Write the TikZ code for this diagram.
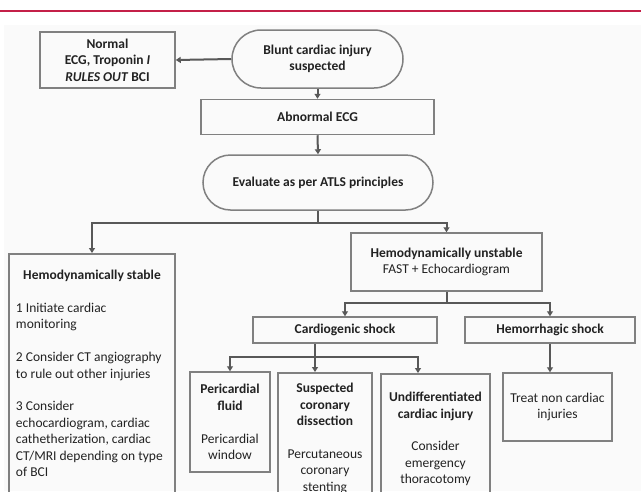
\documentclass[tikz,border=0pt]{standalone}
\usepackage{fontspec}
\setmainfont{Carlito}
\usepackage{tikz}
\usetikzlibrary{arrows.meta}
\usetikzlibrary{shapes.misc}

\definecolor{boxgray}{RGB}{128,128,128}
\definecolor{linkgray}{RGB}{88,88,88}
\definecolor{textgray}{RGB}{34,34,34}
\definecolor{rulered}{RGB}{196,32,72}

\tikzset{
  box/.style={draw=boxgray, line width=1.5pt, inner sep=0pt, align=center,
    text=textgray, font=\fontsize{13.5pt}{16.4pt}\selectfont},
  oval/.style={box, rounded rectangle},
  link/.style={draw=linkgray, line width=2pt, -{Triangle[length=5pt,width=6pt]}},
  stem/.style={draw=linkgray, line width=2pt}
}

\begin{document}
\begin{tikzpicture}[x=1pt,y=-1pt]
    \useasboundingbox (0,0) rectangle (641,491);
    \clip (0,0) rectangle (641,491);
    \fill[white] (0,0) rectangle (641,491);
    \fill[black!2] (4,25) rectangle (641,491);
    \draw[rulered, line width=1.5pt] (0,11) -- (641,11);

    % top of the chart
    \node[box, minimum width=135pt, minimum height=56pt] (normal) at (107.5,60)
        {\textbf{Normal}\\\textbf{ECG, Troponin \textit{I}}\\\textbf{\textit{RULES OUT} BCI}};
    \node[oval, minimum width=171pt, minimum height=58pt] (blunt) at (317.5,59)
        {\textbf{Blunt cardiac injury}\\\textbf{suspected}};
    \node[box, minimum width=233pt, minimum height=35pt] (abnormal) at (317.5,117)
        {\textbf{Abnormal ECG}};
    \node[oval, minimum width=230pt, minimum height=55pt] (evaluate) at (318,182.5)
        {\textbf{Evaluate as per ATLS principles}};

    % stable branch
    \node[box, anchor=north, inner xsep=7pt] (stable) at (92,253)
        {\parbox[c][267pt][t]{152pt}{\vspace*{14.5pt}%
        {\centering\strut\textbf{Hemodynamically stable}\par}\raggedright
        \vspace{16.4pt}1 Initiate cardiac\\monitoring\par
        \vspace{16.4pt}2 Consider CT angiography\\to rule out other injuries\par
        \vspace{16.4pt}3 Consider\\echocardiogram, cardiac\\cathetherization, cardiac\\CT/MRI depending on type\\of BCI\par}};

    % unstable branch
    \node[box, minimum width=191pt, minimum height=58pt] (unstable) at (446.5,262)
        {\textbf{Hemodynamically unstable}\\FAST + Echocardiogram};
    \node[box, minimum width=184pt, minimum height=26pt] (cardio) at (345,330)
        {\textbf{Cardiogenic shock}};
    \node[box, minimum width=170pt, minimum height=26pt] (hemo) at (550,330)
        {\textbf{Hemorrhagic shock}};
    \node[box, minimum width=80pt, minimum height=100pt] (peri) at (230,422)
        {\textbf{Pericardial}\\\textbf{fluid}\\[16.4pt]Pericardial\\window};
    \node[box, anchor=north] (suspected) at (325,372)
        {\parbox[c][150pt][t]{94pt}{\centering\vspace*{8.5pt}%
        \strut\textbf{Suspected}\\\textbf{coronary}\\\textbf{dissection}\\[16.4pt]Percutaneous\\coronary\\stenting\par}};
    \node[box, anchor=north] (undiff) at (435.5,373)
        {\parbox[c][150pt][t]{109pt}{\centering\vspace*{16.5pt}%
        \strut\textbf{Undifferentiated}\\\textbf{cardiac injury}\\[16.4pt]Consider\\emergency\\thoracotomy\par}};
    \node[box, minimum width=109pt, minimum height=68pt] (treat) at (557.5,407)
        {Treat non cardiac\\injuries};

    % connectors
    \coordinate (fork1) at (318,223);
    \coordinate (fork2) at (446.5,303);
    \coordinate (fork3) at (315,357);
    \coordinate (tapU) at (418,357);
    \draw[link] (blunt.west) -- (normal.east);
    \draw[link] (blunt.south) -- (abnormal.north);
    \draw[link] (abnormal.south) -- (evaluate.north);
    \draw[stem] (evaluate.south) -- (fork1);
    \draw[link] (fork1) -| (stable.north);
    \draw[link] (fork1) -| (unstable.north);
    \draw[stem] (unstable.south) -- (fork2);
    \draw[link] (fork2) -| (cardio.north);
    \draw[link] (fork2) -| (hemo.north);
    \draw[stem] (cardio.south -| fork3) -- (fork3);
    \draw[link] (fork3) -| (peri.north);
    \draw[link] (fork3) -- (suspected.north -| fork3);
    \draw[link] (fork3) -- (tapU) -- (undiff.north -| tapU);
    \draw[link] (hemo.south) -- (hemo.south |- treat.north);
\end{tikzpicture}
\end{document}
